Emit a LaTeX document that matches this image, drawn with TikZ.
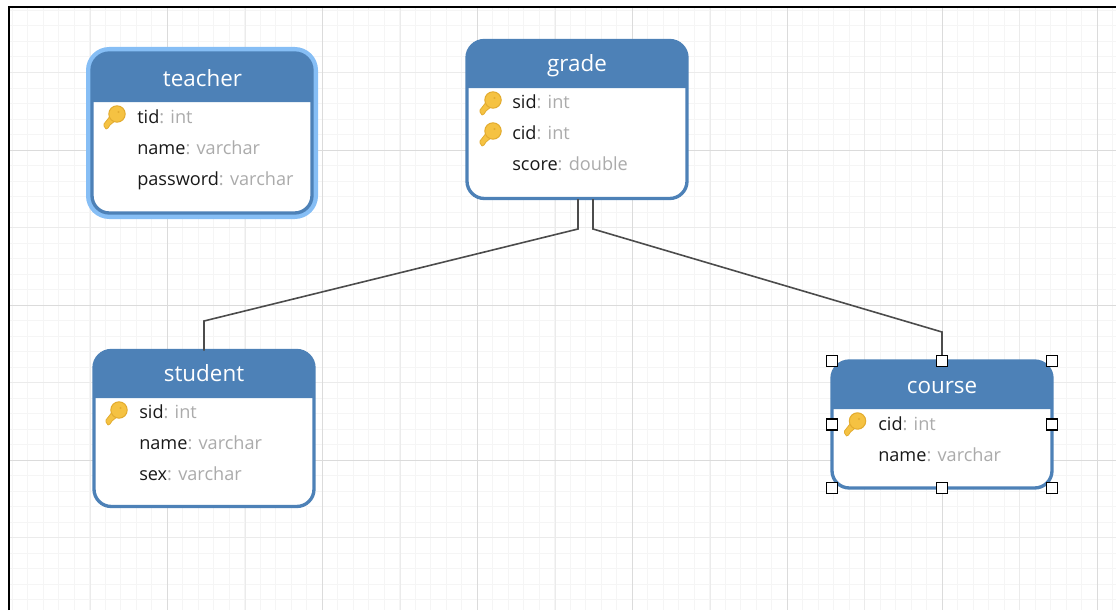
\documentclass[tikz,border=0pt]{standalone}
\usepackage{fontspec}
\setmainfont{Open Sans}
\usepackage{xcolor}
\usetikzlibrary{calc}
\definecolor{headblue}{HTML}{4D81B7}
\definecolor{glowblue}{HTML}{86BEF5}
\definecolor{fieldgray}{HTML}{ABABAB}
\definecolor{keyfill}{HTML}{F5C242}
\definecolor{keyedge}{HTML}{E3AC30}
\tikzset{
    x=0.75pt, y=-0.75pt,
    gridminor/.style={draw=black!4, line width=0.75pt},
    gridmedium/.style={draw=black!8, line width=0.75pt},
    gridmajor/.style={draw=black!14, line width=0.75pt},
    frame/.style={black, line width=2pt},
    tablebox/.style={draw=headblue, fill=white, line width=2.5pt, rounded corners=13pt, inner sep=0pt, outer sep=0pt},
    tablehead/.style={fill=headblue},
    glow/.style={draw=glowblue, line width=9pt, rounded corners=13pt},
    tabletitle/.style={anchor=base, text=white, inner sep=0pt, font=\fontsize{16.8}{18}\selectfont},
    fieldrow/.style={anchor=base west, inner sep=0pt, text=black!90, font=\fontsize{13.6}{15}\selectfont},
    relation/.style={draw=black!70, line width=1.2pt},
    handle/.style={draw=black, fill=white, line width=1.2pt, minimum size=8.5pt, inner sep=0pt, outer sep=0pt},
    key/.pic={
        \draw[keyedge, fill=keyfill, line width=0.6pt, line join=round]
            (-6,1) -- (-13,10) -- (-13,12) -- (-11,15) -- (-9,14) -- (-7,11) -- (-1,6) -- cycle;
        \draw[keyedge, fill=keyfill, line width=0.8pt] (0,0) circle (8.2);
        \fill[keyedge] (1.5,-2) circle (1.2);
    },
}
\newcommand{\headfill}[2]{%
    \fill[tablehead] ($(#1.north west)+(0,#2)$) [rounded corners=13pt] -- (#1.north west) -- (#1.north east)
        [sharp corners] -- ($(#1.north east)+(0,#2)$) -- cycle;
}
\begin{document}
\begin{tikzpicture}
    \useasboundingbox (0,0) rectangle (1116,610);
    \begin{scope}
        \clip (10,8) rectangle (1116,610);
        \foreach \i in {-1,...,71} {
            \draw[gridminor] ({12+15.5*\i},8) -- ({12+15.5*\i},610);
        }
        \foreach \i in {-1,...,40} {
            \draw[gridminor] (10,{-5+15.5*\i}) -- (1116,{-5+15.5*\i});
        }
        \foreach \x in {90,245,400,555,710,864.5,1019.5} \draw[gridmedium] (\x,8) -- (\x,610);
        \foreach \y in {72.5,227.5,382.5,537.5} \draw[gridmedium] (10,\y) -- (1116,\y);
        \foreach \x in {167,322,477,632,787,942,1097} \draw[gridmajor] (\x,8) -- (\x,610);
        \foreach \y in {150,305,460} \draw[gridmajor] (10,\y) -- (1116,\y);
    \end{scope}
    \draw[frame] (9,610) -- (9,7) -- (1116,7);

    % teacher
    \draw[glow] (92,53) rectangle (312,213);
    \node[tablebox, minimum width=165pt, minimum height=120pt] (teacher) at (202,133) {};
    \headfill{teacher}{49}
    \node[tabletitle] (teacher-title) at (202.5,86) {teacher};
    \foreach \field/\type/\i [evaluate={\y=123.3+31*(\i-1)}] in {tid/int/1,name/varchar/2,password/varchar/3} {
        \node[fieldrow] (teacher-\i) at (137,\y) {\field\textcolor{fieldgray}{: \type}};
    };
    \pic at (117,114) {key};

    % grade
    \node[tablebox, minimum width=165pt, minimum height=118.5pt] (grade) at (577,119.5) {};
    \headfill{grade}{47.5}
    \node[tabletitle] (grade-title) at (577,71) {grade};
    \foreach \field/\type/\i [evaluate={\y=108.6+31*(\i-1)}] in {sid/int/1,cid/int/2,score/double/3} {
        \node[fieldrow] (grade-\i) at (512,\y) {\field\textcolor{fieldgray}{: \type}};
    };
    \pic at (493,100) {key};
    \pic at (493,131) {key};

    % student
    \node[tablebox, minimum width=165pt, minimum height=117pt] (student) at (204,428.5) {};
    \headfill{student}{47.5}
    \node[tabletitle] (student-title) at (204,381) {student};
    \foreach \field/\type/\i [evaluate={\y=418.6+31*(\i-1)}] in {sid/int/1,name/varchar/2,sex/varchar/3} {
        \node[fieldrow] (student-\i) at (139,\y) {\field\textcolor{fieldgray}{: \type}};
    };
    \pic at (119,410) {key};

    % course
    \node[tablebox, minimum width=165pt, minimum height=95.25pt] (course) at (942,424.5) {};
    \headfill{course}{48}
    \node[tabletitle] (course-title) at (942,393) {course};
    \foreach \field/\type/\i [evaluate={\y=430.4+31*(\i-1)}] in {cid/int/1,name/varchar/2} {
        \node[fieldrow] (course-\i) at (878,\y) {\field\textcolor{fieldgray}{: \type}};
    };
    \pic at (857.5,421) {key};

    % relations
    \coordinate (gradeA) at (578,199);
    \coordinate (gradeB) at (593,199);
    \coordinate (bendA) at (578,229);
    \coordinate (bendB) at (593,229);
    \coordinate (kneeA) at (204,321);
    \coordinate (kneeB) at (942,332);
    \draw[relation] (gradeA) -- (bendA) -- (kneeA) -- (student.north);
    \draw[relation] (gradeB) -- (bendB) -- (kneeB) -- (course.north);

    % selection handles
    \foreach \a in {north west,north,north east,west,east,south west,south,south east} {
        \node[handle] (handle \a) at (course.\a) {};
    };
\end{tikzpicture}
\end{document}
